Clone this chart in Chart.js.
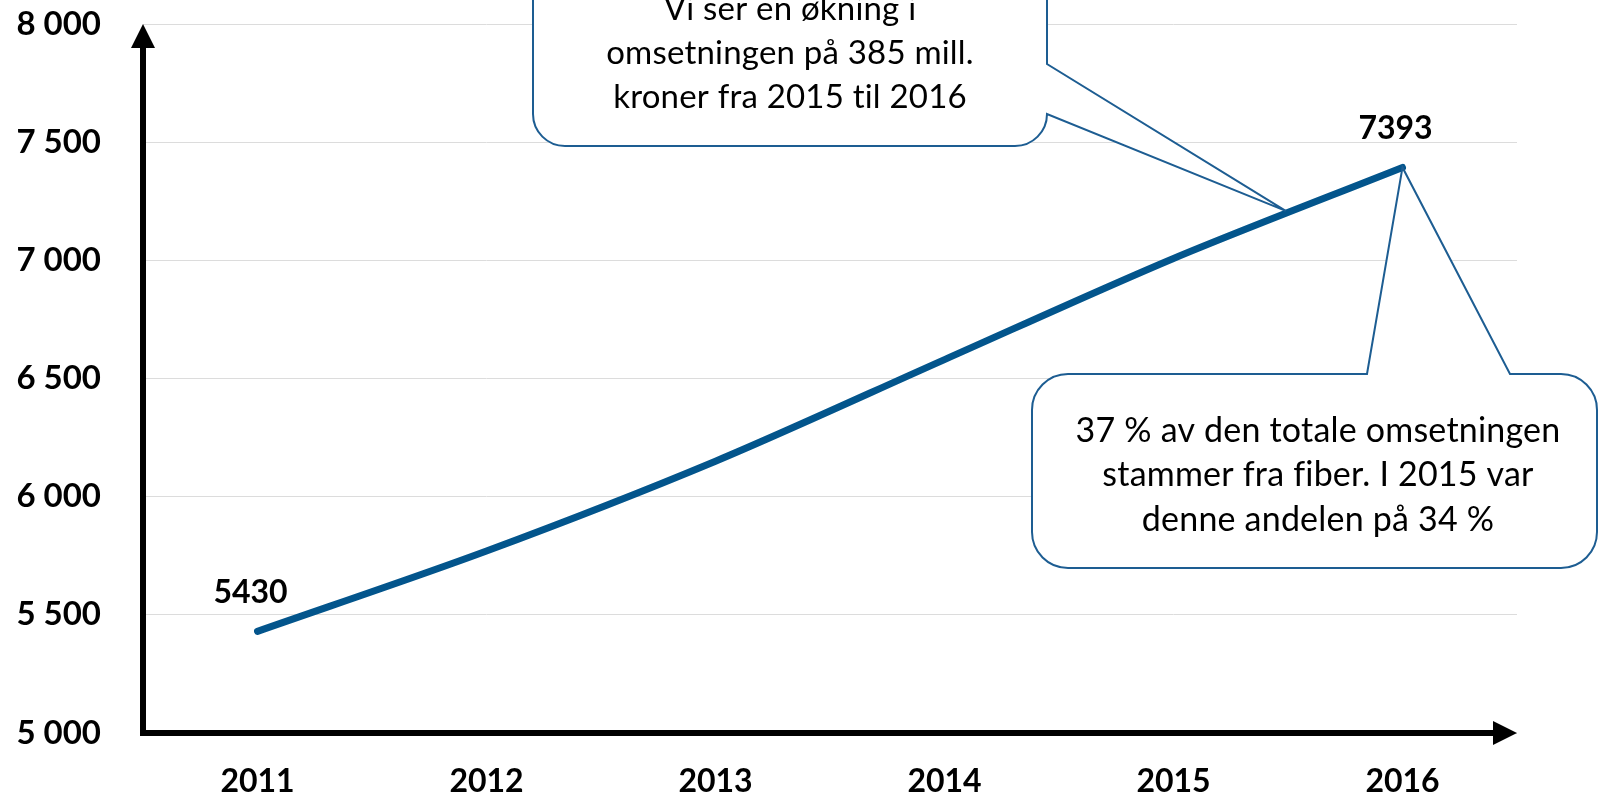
<!DOCTYPE html>
<html lang="no">
<head>
<meta charset="utf-8">
<title>Omsetning 2011–2016</title>
<script src="https://cdn.jsdelivr.net/npm/chart.js@4/dist/chart.umd.min.js"></script>
<style>
    html, body { margin: 0; padding: 0; background: #ffffff; }
    #wrap { width: 1598px; height: 798px; }
</style>
</head>
<body>
<div id="wrap"><canvas id="chart" width="1598" height="798"></canvas></div>
<script>
/* ── Data ─────────────────────────────────────────────────── */
const years      = ["2011", "2012", "2013", "2014", "2015", "2016"];
const revenue    = [5430, 5770, 6150, 6580, 7008, 7393];
const valueTags  = ["5430", null, null, null, null, "7393"];
const yMin       = 5000;
const yMax       = 8000;
const yStep      = 500;
const topNote    = ["Vi ser en økning i", "omsetningen på 385 mill.", "kroner fra 2015 til 2016"];
const sideNote   = ["37 % av den totale omsetningen", "stammer fra fiber. I 2015 var", "denne andelen på 34 %"];

/* ── Look ─────────────────────────────────────────────────── */
const FONT       = "Lato, 'Noto Sans', sans-serif";
const LINE_BLUE  = "#03558c";
const NOTE_BLUE  = "#1d5d92";

function spaced(v) {
    return String(v).replace(/\B(?=(\d{3})+(?!\d))/g, " ");
}

// ── Axes drawn as arrows ───────────────────────────────────
const arrowAxes = {
    id: "arrowAxes",
    afterDatasetsDraw(chart) {
        const { ctx, chartArea: a } = chart;
        ctx.save();
        ctx.strokeStyle = "#000";
        ctx.fillStyle = "#000";
        ctx.lineWidth = 6;
        ctx.lineCap = "butt";

        // vertical
        ctx.beginPath();
        ctx.moveTo(a.left, a.bottom + 3);
        ctx.lineTo(a.left, a.top + 22);
        ctx.stroke();
        ctx.beginPath();
        ctx.moveTo(a.left, a.top);
        ctx.lineTo(a.left + 12, a.top + 24);
        ctx.lineTo(a.left - 12, a.top + 24);
        ctx.closePath();
        ctx.fill();

        // horizontal
        ctx.beginPath();
        ctx.moveTo(a.left - 3, a.bottom);
        ctx.lineTo(a.right - 22, a.bottom);
        ctx.stroke();
        ctx.beginPath();
        ctx.moveTo(a.right, a.bottom);
        ctx.lineTo(a.right - 24, a.bottom - 12);
        ctx.lineTo(a.right - 24, a.bottom + 12);
        ctx.closePath();
        ctx.fill();
        ctx.restore();
    },
};

// ── Value labels above first / last point ──────────────────
const valueLabels = {
    id: "valueLabels",
    afterDatasetsDraw(chart) {
        const { ctx } = chart;
        const pts = chart.getDatasetMeta(0).data;
        ctx.save();
        ctx.font = "bold 32px " + FONT;
        ctx.fillStyle = "#000";
        ctx.textAlign = "center";
        ctx.textBaseline = "middle";
        valueTags.forEach((tag, i) => {
            if (!tag) return;
            ctx.fillText(tag, pts[i].x - 7, pts[i].y - 39);
        });
        ctx.restore();
    },
};

// ── Callout bubbles ────────────────────────────────────────
function writeLines(ctx, lines, cx, y0, step, size) {
    ctx.font = size + "px " + FONT;
    ctx.fillStyle = "#000";
    ctx.textAlign = "center";
    ctx.textBaseline = "middle";
    ctx.letterSpacing = "0.2px"; // stops Lato from joining "ti"
    lines.forEach((t, i) => ctx.fillText(t, cx, y0 + i * step));
}

const callouts = {
    id: "callouts",
    afterDraw(chart) {
        const { ctx } = chart;
        const pts = chart.getDatasetMeta(0).data;
        const p15 = pts[4], p16 = pts[5];

        ctx.save();
        ctx.strokeStyle = NOTE_BLUE;
        ctx.lineWidth = 2;
        ctx.fillStyle = "#fff";
        ctx.lineJoin = "miter";

        // top bubble, tail from the right edge down to the 2015–2016 segment
        let x0 = 533, y0 = -80, x1 = 1047, y1 = 146, r = 32;
        const t = 0.49;
        const tipA = { x: p15.x + (p16.x - p15.x) * t, y: p15.y + (p16.y - p15.y) * t - 3 };
        ctx.beginPath();
        ctx.moveTo(x0 + r, y0);
        ctx.lineTo(x1 - r, y0);
        ctx.arcTo(x1, y0, x1, y0 + r, r);
        ctx.lineTo(x1, 64);
        ctx.lineTo(tipA.x, tipA.y);
        ctx.lineTo(x1, y1 - r);
        ctx.arcTo(x1, y1, x1 - r, y1, r);
        ctx.lineTo(x0 + r, y1);
        ctx.arcTo(x0, y1, x0, y1 - r, r);
        ctx.lineTo(x0, y0 + r);
        ctx.arcTo(x0, y0, x0 + r, y0, r);
        ctx.closePath();
        ctx.fill();
        ctx.stroke();
        writeLines(ctx, topNote, (x0 + x1) / 2, 9, 44, 33);

        // right bubble, tail up to the 2016 point
        x0 = 1032; y0 = 374; x1 = 1597; y1 = 568; r = 36;
        ctx.fillStyle = "#fff";
        ctx.beginPath();
        ctx.moveTo(x0 + r, y0);
        ctx.lineTo(1367, y0);
        ctx.lineTo(p16.x, p16.y);
        ctx.lineTo(1510, y0);
        ctx.lineTo(x1 - r, y0);
        ctx.arcTo(x1, y0, x1, y0 + r, r);
        ctx.lineTo(x1, y1 - r);
        ctx.arcTo(x1, y1, x1 - r, y1, r);
        ctx.lineTo(x0 + r, y1);
        ctx.arcTo(x0, y1, x0, y1 - r, r);
        ctx.lineTo(x0, y0 + r);
        ctx.arcTo(x0, y0, x0 + r, y0, r);
        ctx.closePath();
        ctx.fill();
        ctx.stroke();
        writeLines(ctx, sideNote, 1318, 431, 44.5, 34);
        ctx.restore();
    },
};

// ── Chart ──────────────────────────────────────────────────
const ctx = document.getElementById("chart").getContext("2d");
const chart = new Chart(ctx, {
    type: "line",
    data: {
        labels: years,
        datasets: [
            {
                label: "Omsetning",
                data: revenue,
                borderColor: LINE_BLUE,
                borderWidth: 7,
                borderCapStyle: "round",
                tension: 0.3,
                pointRadius: 0,
                fill: false,
            },
        ],
    },
    options: {
        responsive: false,
        animation: false,
        layout: { padding: { top: 24, right: 81, left: 0, bottom: 0 } },
        plugins: {
            legend: { display: false },
            tooltip: { enabled: false },
        },
        scales: {
            x: {
                offset: true,
                grid: { display: false, drawTicks: false },
                border: { display: false },
                ticks: {
                    color: "#000",
                    padding: 29,
                    font: { family: FONT, size: 32, weight: "bold" },
                },
                afterFit: (s) => { s.height = 65; },
            },
            y: {
                min: yMin,
                max: yMax,
                // invisible tick marks keep the labels 43px off the axis
                grid: { color: "#dcdcdc", lineWidth: 1, tickLength: 42, tickColor: "rgba(0,0,0,0)" },
                border: { display: false },
                ticks: {
                    stepSize: yStep,
                    color: "#000",
                    padding: 0,
                    font: { family: FONT, size: 33, weight: "bold" },
                    callback: (v) => spaced(v),
                },
                afterFit: (s) => { s.width = 143; },
            },
        },
    },
    plugins: [arrowAxes, valueLabels, callouts],
});
</script>
</body>
</html>
